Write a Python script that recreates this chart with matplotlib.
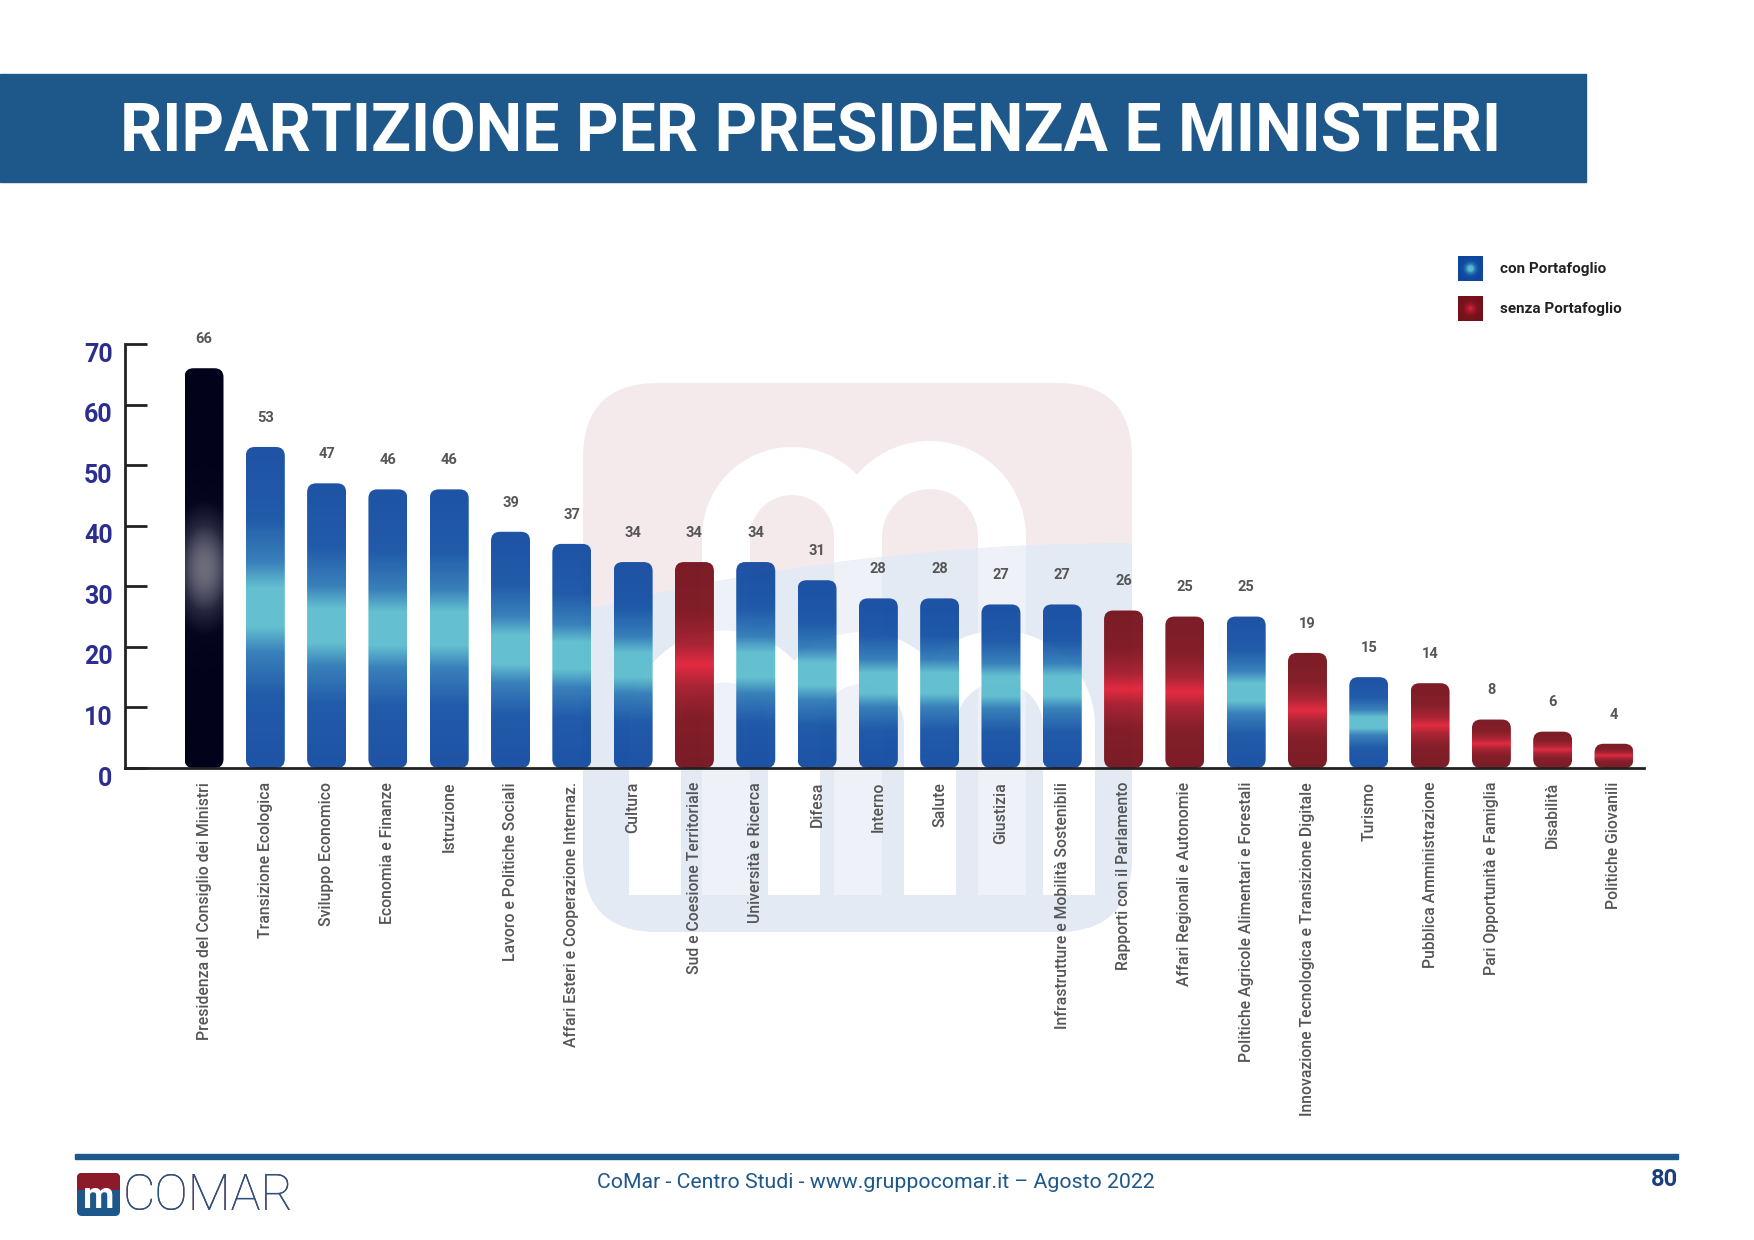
import numpy as np
import matplotlib
matplotlib.use("Agg")
import matplotlib.pyplot as plt
import matplotlib.transforms as mtransforms
from matplotlib.patches import FancyBboxPatch, Rectangle, Polygon, PathPatch
from matplotlib.colors import LinearSegmentedColormap
from matplotlib.path import Path

# ---------------- data ----------------
categories = [
    "Presidenza del Consiglio dei Ministri", "Transizione Ecologica", "Sviluppo Economico",
    "Economia e Finanze", "Istruzione", "Lavoro e Politiche Sociali",
    "Affari Esteri e Cooperazione Internaz.", "Cultura", "Sud e Coesione Territoriale",
    "Università e Ricerca", "Difesa", "Interno", "Salute", "Giustizia",
    "Infrastrutture e Mobilità Sostenibili", "Rapporti con il Parlamento",
    "Affari Regionali e Autonomie", "Politiche Agricole Alimentari e Forestali",
    "Innovazione Tecnologica e Transizione Digitale", "Turismo",
    "Pubblica Amministrazione", "Pari Opportunità e Famiglia", "Disabilità",
    "Politiche Giovanili",
]
values = [66, 53, 47, 46, 46, 39, 37, 34, 34, 34, 31, 28, 28, 27, 27, 26, 25, 25, 19, 15, 14, 8, 6, 4]
# P = Presidenza, C = con Portafoglio, S = senza Portafoglio
kinds = ["P", "C", "C", "C", "C", "C", "C", "C", "S", "C", "C", "C", "C", "C",
         "C", "S", "S", "C", "S", "C", "S", "S", "S", "S"]
legend_labels = ["con Portafoglio", "senza Portafoglio"]
yticks = [0, 10, 20, 30, 40, 50, 60, 70]
title = "RIPARTIZIONE PER PRESIDENZA E MINISTERI"
footer = "CoMar - Centro Studi - www.gruppocomar.it – Agosto 2022"
page = "80"

# ---------------- style ----------------
W, H = 1754, 1240
DPI = 100
BANNER = "#1e578a"
NAVY_TICK = "#2b2e8f"
GREY = "#555555"

cmap_blue = LinearSegmentedColormap.from_list("blue", [
    (0.0, "#0e469e"), (0.22, "#104ea3"), (0.36, "#2a77b6"), (0.44, "#58bccd"),
    (0.56, "#58bccd"), (0.64, "#2a77b6"), (0.78, "#104ea3"), (1.0, "#0e469e")])
cmap_red = LinearSegmentedColormap.from_list("red", [
    (0.0, "#74111b"), (0.25, "#7e131d"), (0.40, "#a5192a"), (0.5, "#e21f36"),
    (0.60, "#a5192a"), (0.75, "#7e131d"), (1.0, "#74111b")])
cmap_black = LinearSegmentedColormap.from_list("black", [
    (0.0, "#02021a"), (0.35, "#06061f"), (0.65, "#26263f"), (0.88, "#55556a"), (1.0, "#6c6c7a")])

plt.rcParams['font.family'] = ['Roboto', 'DejaVu Sans']

fig = plt.figure(figsize=(W / DPI, H / DPI), dpi=DPI)
fig.patch.set_facecolor("white")

# ---------- background layer (pixel coordinates) ----------
bg = fig.add_axes([0, 0, 1, 1], zorder=0)
bg.set_xlim(0, W)
bg.set_ylim(H, 0)
bg.axis("off")

# banner
bg.add_patch(Rectangle((0, 74), 1586, 108, color=BANNER, zorder=1))
bg.text(811, 134, title, color="white", fontsize=47.5, fontweight="bold",
        ha="center", va="center", zorder=2)


def m_path(legs, cy, bottom):
    verts, codes = [], []
    for i in range(len(legs) - 1):
        cx = (legs[i] + legs[i + 1]) / 2
        r = (legs[i + 1] - legs[i]) / 2
        t = np.linspace(np.pi, 0, 40)
        arc = np.column_stack([cx + r * np.cos(t), cy - r * np.sin(t)])
        pts = np.vstack([[legs[i], bottom], arc, [legs[i + 1], bottom]])
        verts.extend(pts.tolist())
        codes.extend([Path.MOVETO] + [Path.LINETO] * (len(pts) - 1))
    return Path(verts, codes)


# watermark logo
wx0, wx1, wy0, wy1 = 583, 1132, 383, 932
wm = FancyBboxPatch((wx0, wy0), wx1 - wx0, wy1 - wy0,
                    boxstyle="round,pad=0,rounding_size=75",
                    facecolor="#f4eaec", edgecolor="none", zorder=0.5)
bg.add_patch(wm)
xs = np.linspace(wx0, wx1, 80)
tt = (xs - wx0) / (wx1 - wx0)
ys = 610 - 67 * (1 - (1 - tt) ** 2)
poly_pts = np.vstack([np.column_stack([xs, ys]), [[wx1, wy1], [wx0, wy1]]])

leg_bottom = 895
upper_m = m_path([726, 858, 1002], 537, leg_bottom)
um1 = PathPatch(upper_m, facecolor="none", edgecolor="white", linewidth=48 * 72 / DPI,
                capstyle="butt", joinstyle="round", zorder=0.6)
bg.add_patch(um1)
um1.set_clip_path(wm)
lower = Polygon(poly_pts, closed=True, facecolor="#e3eaf3", edgecolor="none", zorder=0.7)
bg.add_patch(lower)
lower.set_clip_path(wm)
um2 = PathPatch(upper_m, facecolor="none", edgecolor="#eef2f8", linewidth=48 * 72 / DPI,
                capstyle="butt", joinstyle="round", zorder=0.75)
bg.add_patch(um2)
clip_poly = Polygon(poly_pts, closed=True, transform=bg.transData, visible=False)
bg.add_patch(clip_poly)
um2.set_clip_path(clip_poly)
lower_m = m_path([655, 794, 930, 1069], 726, leg_bottom)
lm = PathPatch(lower_m, facecolor="none", edgecolor="white", linewidth=52 * 72 / DPI,
               capstyle="butt", joinstyle="round", zorder=0.8)
bg.add_patch(lm)
lm.set_clip_path(wm)

# footer
bg.add_patch(Rectangle((75, 1154), 1603, 5, color=BANNER, zorder=1))
bg.text(876, 1182, footer, color=BANNER, fontsize=15.3, ha="center", va="center")
bg.text(1678, 1180, page, color="#1a3f7a", fontsize=17, fontweight="bold",
        ha="right", va="center")

# logo
box = FancyBboxPatch((77, 1173), 43, 43, boxstyle="round,pad=0,rounding_size=5",
                     facecolor=BANNER, edgecolor="none", zorder=1)
bg.add_patch(box)
top_box = Rectangle((77, 1173), 43, 17, facecolor="#8b1a2b", edgecolor="none", zorder=1.1)
bg.add_patch(top_box)
top_box.set_clip_path(box)
bg.text(98.5, 1198, "m", color="white", fontsize=26, fontweight="bold",
        ha="center", va="center", zorder=2)
for col, (ya, yb) in [("#8b1a2b", (1165, 1190)), (BANNER, (1190, 1225))]:
    t = bg.text(123, 1196, "COMAR", color=col, fontsize=36, fontweight="light",
                ha="left", va="center", zorder=2)
    clip = Rectangle((120, ya), 200, yb - ya, transform=bg.transData, visible=False)
    bg.add_patch(clip)
    t.set_clip_path(clip)

# ---------- main chart ----------
ax_l, ax_r, ax_t, ax_b = 125, 1644, 344, 768
ax = fig.add_axes([ax_l / W, 1 - ax_b / H, (ax_r - ax_l) / W, (ax_b - ax_t) / H], zorder=1)
ax.patch.set_alpha(0)

n = len(values)
x = np.arange(n)
first_c, last_c = 204, 1614
ppu_x = (last_c - first_c) / (n - 1)
xlim = ((ax_l - first_c) / ppu_x, (ax_r - first_c) / ppu_x)
ylim = (0, 70)
ppu_y = (ax_b - ax_t) / (ylim[1] - ylim[0])
aspect = ppu_x / ppu_y
bw = 39 / ppu_x
rpx = 9
rsize = rpx / ppu_x

grad = np.linspace(0, 1, 256).reshape(-1, 1)
grad_b = np.repeat(grad, 8, axis=1)
yy, xx = np.mgrid[-1:1:256j, -1:1:32j]
black_grad = np.exp(-(yy / 0.33) ** 2) * (1 - 0.25 * xx ** 2)

for xi, v, k in zip(x, values, kinds):
    patch = FancyBboxPatch((xi - bw / 2, 0), bw, v,
                           boxstyle=f"round,pad=0,rounding_size={rsize}",
                           mutation_aspect=aspect, facecolor="none", edgecolor="none",
                           transform=ax.transData)
    ax.add_patch(patch)
    if k == "P":
        img, cm, al = black_grad, cmap_black, 1.0
    elif k == "C":
        img, cm, al = grad_b, cmap_blue, 0.93
    else:
        img, cm, al = grad_b, cmap_red, 0.95
    im = ax.imshow(img, extent=[xi - bw / 2, xi + bw / 2, 0, v], aspect="auto",
                   cmap=cm, origin="lower", zorder=2, alpha=al, interpolation="bilinear",
                   vmin=0, vmax=1)
    im.set_clip_path(patch)
    ax.annotate(str(v), (xi, v), xytext=(0, 21), textcoords="offset points",
                ha="center", va="center", fontsize=10.5, fontweight="bold", color=GREY)

ax.set_xlim(*xlim)
ax.set_ylim(*ylim)
ax.set_aspect("auto")

for s in ["top", "right"]:
    ax.spines[s].set_visible(False)
for s in ["left", "bottom"]:
    ax.spines[s].set_color("#222222")
    ax.spines[s].set_linewidth(2)

ax.set_yticks(yticks)
ax.set_yticklabels([str(t) for t in yticks], fontsize=18, fontweight="bold", color=NAVY_TICK)
ax.tick_params(axis="y", direction="in", length=16, width=2, color="#222222", pad=9)
shift = mtransforms.ScaledTranslation(0, -8 / DPI, fig.dpi_scale_trans)
for lab in ax.get_yticklabels():
    lab.set_transform(lab.get_transform() + shift)
ax.set_xticks(x)
ax.set_xticklabels(categories, rotation=90, ha="center", va="top", fontsize=11.3,
                   fontweight="medium", color=GREY)
ax.tick_params(axis="x", length=0, pad=10)

# ---------- legend ----------
ly = np.linspace(-1, 1, 40)
LX, LY = np.meshgrid(ly, ly)
rad = np.clip(np.sqrt(LX ** 2 + LY ** 2), 0, 1)
for i, (lab, cm) in enumerate(zip(legend_labels, [cmap_blue, cmap_red])):
    y0 = 256 + i * 40
    lax = fig.add_axes([1458 / W, 1 - (y0 + 25) / H, 25 / W, 25 / H], zorder=2)
    lax.imshow(0.5 - 0.5 * rad ** 1.3, cmap=cm, aspect="auto", interpolation="bilinear",
               vmin=0, vmax=1)
    lax.axis("off")
    bg.text(1500, y0 + 13, lab, fontsize=11, fontweight="bold", color="#222222",
            ha="left", va="center")

fig.savefig("out.png", dpi=DPI)
